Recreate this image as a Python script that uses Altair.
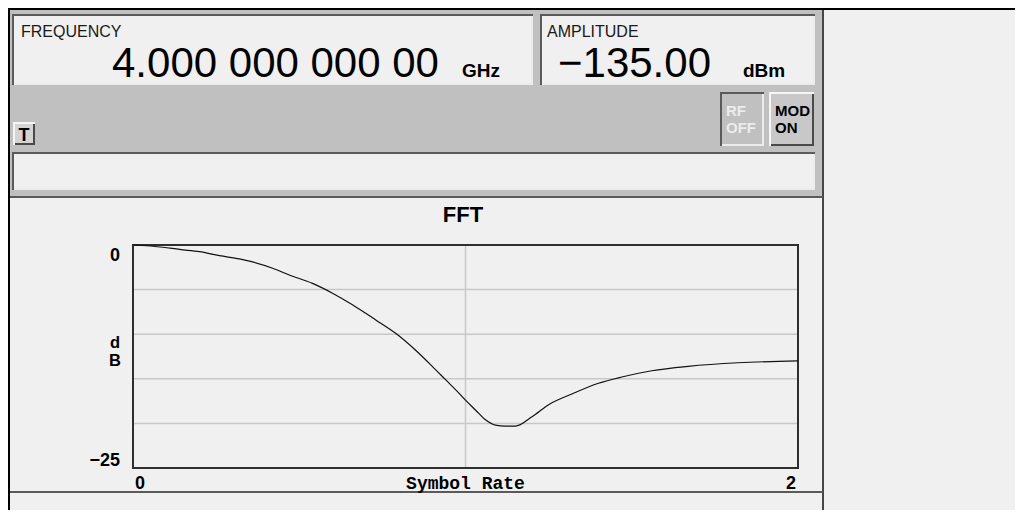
import altair as alt
import pandas as pd

# ---------------- data ----------------
symbol_rate = [0.00, 0.09, 0.14, 0.20, 0.26, 0.32, 0.36, 0.42, 0.47, 0.54,
               0.60, 0.66, 0.70, 0.73, 0.79, 0.85, 0.90, 0.94, 0.98, 1.00,
               1.03, 1.06, 1.09, 1.12, 1.15, 1.20, 1.25, 1.32, 1.40, 1.47,
               1.56, 1.67, 1.82, 2.00]
fft_db = [0.0, -0.25, -0.5, -0.75, -1.2, -1.55, -1.9, -2.6, -3.36, -4.3,
          -5.4, -6.7, -7.66, -8.4, -9.9, -11.8, -13.6, -15.1, -16.6, -17.4,
          -18.5, -19.6, -20.2, -20.3, -20.3, -19.25, -17.9, -16.7, -15.5, -14.8,
          -14.1, -13.6, -13.2, -13.0]
x_domain = [0, 2]
y_domain = [-25, 0]
grid_db = [-5, -10, -15, -20]
grid_rate = [1]
x_title = "Symbol Rate"
y_title = ["d", "B"]
plot_title = "FFT"

frequency_label = "FREQUENCY"
frequency_value = "4.000 000 000 00"
frequency_unit = "GHz"
amplitude_label = "AMPLITUDE"
amplitude_value = "\u2212135.00"
amplitude_unit = "dBm"

# ---------------- layout (pixels inside the chart) ----------------
W, H = 1007, 502
PLOT_X = [125, 790]
PLOT_Y = [460, 237]

PANEL = "#c0c0c0"
LIGHT = "#f0f0f0"
DARK = "#5a5a5a"

one = pd.DataFrame({"k": [0]})


def rect(x1, y1, x2, y2, color):
    return alt.Chart(one).mark_rect(color=color, strokeWidth=0).encode(
        x=alt.value(x1), x2=alt.value(x2), y=alt.value(y1), y2=alt.value(y2))


def bevel(x1, y1, x2, y2, fill, sunken=True, w=2):
    tl = DARK if sunken else "#f6f6f6"
    br = "#ececec" if sunken else "#4a4a4a"
    return [
        rect(x1, y1, x2, y2, fill),
        rect(x1, y2 - w, x2, y2, br),
        rect(x2 - w, y1, x2, y2, br),
        rect(x1, y1, x2, y1 + w, tl),
        rect(x1, y1, x1 + w, y2, tl),
    ]


def text(x, y, s, size, weight="normal", color="#000000", align="left",
         font="Liberation Sans"):
    return alt.Chart(one).mark_text(
        text=s, font=font, fontSize=size, fontWeight=weight, color=color,
        align=align, baseline="alphabetic").encode(x=alt.value(x), y=alt.value(y))


layers = []
# frame of the instrument screen
layers.append(rect(0, 2, 815, 189, PANEL))
layers.append(rect(0, 0, W, 2, "#000000"))
layers.append(rect(0, 0, 2, H, "#000000"))
layers.append(rect(814, 2, 816, H, "#464646"))
layers.append(rect(2, 188, 815, 190, "#5a5a5a"))
layers.append(rect(2, 483, 815, 485, "#5a5a5a"))
# boxes
layers += bevel(4, 6, 525, 77, LIGHT, sunken=True)
layers += bevel(532, 6, 807, 77, LIGHT, sunken=True)
layers += bevel(4, 144, 807, 182, LIGHT, sunken=True)
layers += bevel(5, 114, 27, 137, "#d4d4d4", sunken=False)
layers += bevel(712, 84, 756, 138, PANEL, sunken=True)
layers += bevel(761, 84, 806, 138, "#c8c8c8", sunken=False)

# texts of the header
layers.append(text(13, 29, frequency_label, 16, color="#1a1a1a"))
layers.append(text(104, 69, frequency_value, 42))
layers.append(text(454, 69, frequency_unit, 19, weight="bold"))
layers.append(text(539, 29, amplitude_label, 16, color="#1a1a1a"))
layers.append(text(550, 69, amplitude_value, 42))
layers.append(text(735, 69, amplitude_unit, 19, weight="bold"))
layers.append(text(16, 133, "T", 18, weight="bold", align="center"))
layers.append(text(718, 108, "RF", 15, weight="bold", color="#ececec"))
layers.append(text(718, 125, "OFF", 15, weight="bold", color="#ececec"))
layers.append(text(767, 108, "MOD", 15, weight="bold"))
layers.append(text(767, 125, "ON", 15, weight="bold"))
layers.append(text(455, 214, plot_title, 22, weight="bold", align="center"))

# ---------------- FFT plot through scales ----------------
xs = alt.Scale(domain=x_domain, range=PLOT_X, nice=False, zero=False)
ys = alt.Scale(domain=y_domain, range=PLOT_Y, nice=False, zero=False)

curve_df = pd.DataFrame({"rate": symbol_rate, "db": fft_db})

hgrid = alt.Chart(pd.DataFrame({"db": grid_db})).mark_rule(
    color="#c8c8c8", strokeWidth=1.5).encode(
    y=alt.Y("db:Q", scale=ys, axis=None),
    x=alt.XDatum(x_domain[0], scale=xs, axis=None),
    x2=alt.X2Datum(x_domain[1]))
vgrid = alt.Chart(pd.DataFrame({"rate": grid_rate})).mark_rule(
    color="#c8c8c8", strokeWidth=1.5).encode(
    x=alt.X("rate:Q", scale=xs, axis=None),
    y=alt.YDatum(y_domain[0], scale=ys, axis=None),
    y2=alt.Y2Datum(y_domain[1]))
frame = alt.Chart(one).mark_rect(fillOpacity=0, stroke="#2e2e2e", strokeWidth=2).encode(
    x=alt.XDatum(x_domain[0], scale=xs, axis=None), x2=alt.X2Datum(x_domain[1]),
    y=alt.YDatum(y_domain[0], scale=ys, axis=None), y2=alt.Y2Datum(y_domain[1]))

curve = alt.Chart(curve_df).mark_line(
    color="#111111", strokeWidth=1.2, interpolate="monotone").encode(
    x=alt.X("rate:Q", scale=xs, axis=None),
    y=alt.Y("db:Q", scale=ys, axis=None))

LBL = dict(font="Liberation Sans", fontSize=18, fontWeight="bold", color="#000000")

# tick labels placed through the scales
y_top = alt.Chart(pd.DataFrame({"v": [y_domain[1]]})).mark_text(
    align="right", baseline="top", dy=2, **LBL).encode(
    y=alt.Y("v:Q", scale=ys, axis=None), x=alt.value(PLOT_X[0] - 13),
    text=alt.Text("v:Q", format="d"))
y_bot = alt.Chart(pd.DataFrame({"v": [y_domain[0]]})).mark_text(
    align="right", baseline="bottom", dy=2, **LBL).encode(
    y=alt.Y("v:Q", scale=ys, axis=None), x=alt.value(PLOT_X[0] - 13),
    text=alt.Text("v:Q", format="d"))
x_left = alt.Chart(pd.DataFrame({"v": [x_domain[0]]})).mark_text(
    align="left", baseline="top", dx=2, **LBL).encode(
    x=alt.X("v:Q", scale=xs, axis=None), y=alt.value(PLOT_Y[0] + 7),
    text=alt.Text("v:Q", format="d"))
x_right = alt.Chart(pd.DataFrame({"v": [x_domain[1]]})).mark_text(
    align="right", baseline="top", dx=-2, **LBL).encode(
    x=alt.X("v:Q", scale=xs, axis=None), y=alt.value(PLOT_Y[0] + 7),
    text=alt.Text("v:Q", format="d"))
x_title_layer = alt.Chart(one).mark_text(
    align="center", baseline="top", font="Liberation Mono", fontSize=18,
    fontWeight="bold", color="#000000", text=x_title).encode(
    x=alt.XDatum(sum(x_domain) / 2, scale=xs, axis=None), y=alt.value(PLOT_Y[0] + 7))
y_title_layer = alt.Chart(one).mark_text(
    align="center", baseline="top", lineHeight=18, text=y_title,
    font="Liberation Sans", fontSize=16.5, fontWeight="bold", color="#000000").encode(
    x=alt.value(PLOT_X[0] - 18), y=alt.value(327))

layers += [hgrid, vgrid, frame, curve, y_top, y_bot, x_left, x_right,
           x_title_layer, y_title_layer]

chart = alt.layer(*layers).properties(
    width=W, height=H, autosize=alt.AutoSizeParams(type="none"), padding=0,
    background=LIGHT).configure_view(stroke=None)

chart.save("out.html", embed_options={"renderer": "svg", "actions": False})
